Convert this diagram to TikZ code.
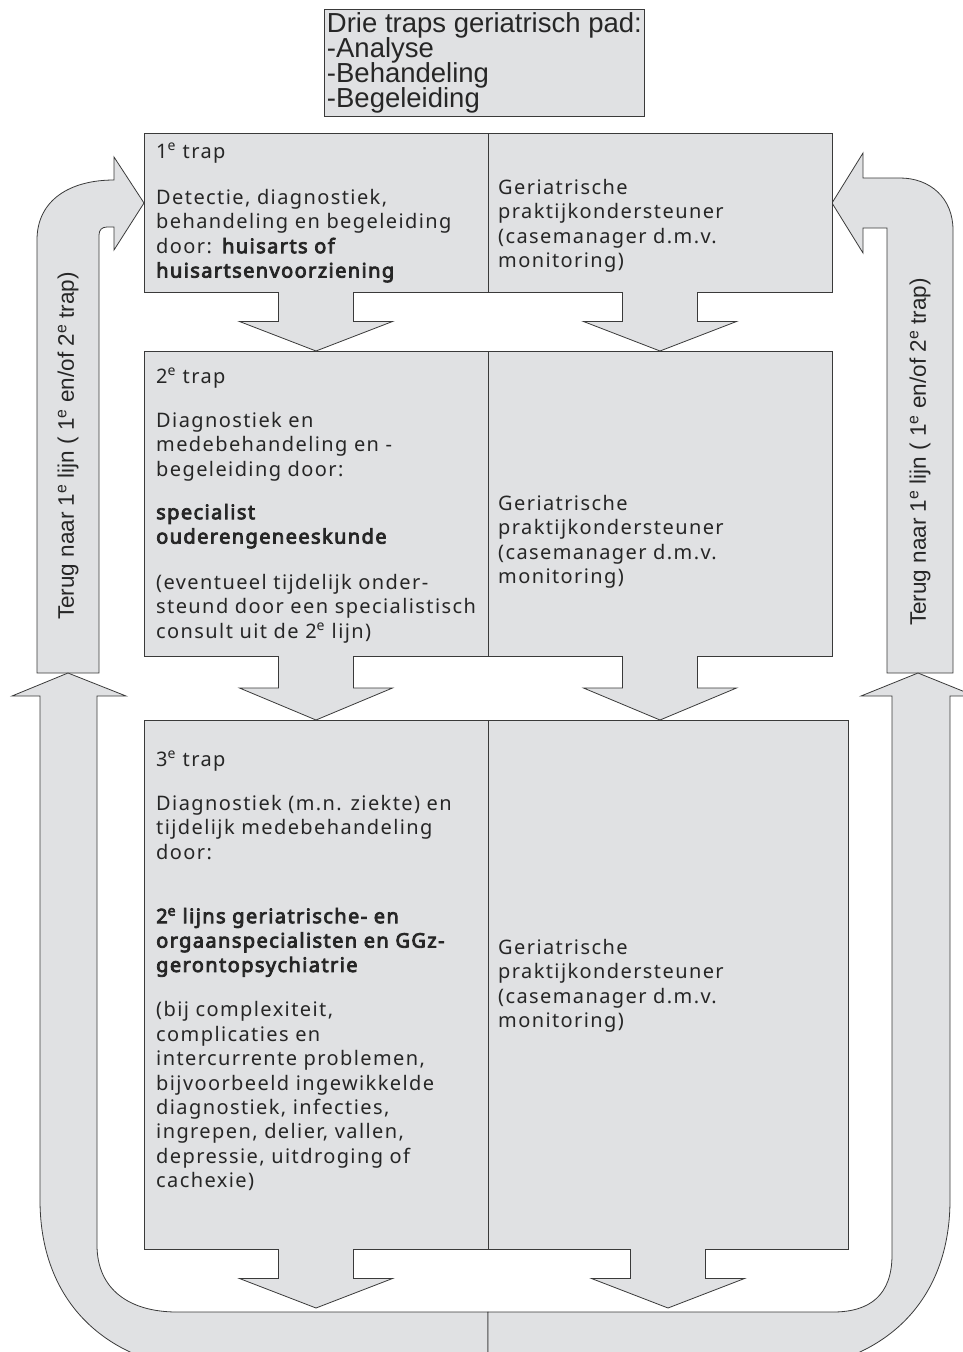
\documentclass[tikz,border=0pt]{standalone}
\usepackage{fontspec}
\setmainfont{Noto Sans}[LetterSpace=7, BoldFont={Noto Sans}, BoldFeatures={FakeBold=4}]
\newfontfamily\arialfont{Liberation Sans}
\newcommand{\padfont}{\arialfont\fontsize{27.5}{25}\selectfont\lineskiplimit=-20pt\relax}
\definecolor{panel}{HTML}{E0E1E3}
\definecolor{rim}{HTML}{3A3A3A}

% block arrow pointing down: centre x, top y, tip y
\newcommand{\dropdown}[3]{%
  \fill[panel] (#1-37.5,#2-1.5) -- (#1-37.5,{(#2+#3)/2}) -- (#1-76.5,{(#2+#3)/2}) -- (#1,#3)
    -- (#1+76.5,{(#2+#3)/2}) -- (#1+37.5,{(#2+#3)/2}) -- (#1+37.5,#2-1.5) -- cycle;
  \draw[rim line] (#1-37.5,#2) -- (#1-37.5,{(#2+#3)/2}) -- (#1-76.5,{(#2+#3)/2}) -- (#1,#3)
    -- (#1+76.5,{(#2+#3)/2}) -- (#1+37.5,{(#2+#3)/2}) -- (#1+37.5,#2);
}

\begin{document}
\begin{tikzpicture}[
  x=1pt, y=-1pt,
  rim line/.style={draw=rim, line width=0.8pt, line join=miter},
  blockarrow/.style={rim line, fill=panel},
  panelbox/.style={rim line, fill=panel, inner sep=0, anchor=north west},
  body/.style={font=\fontsize{20}{24.4}\selectfont, text=black!85, align=left, anchor=north west, inner sep=0},
  sidelabel/.style={font=\arialfont\fontsize{22.5}{22.5}\selectfont, text=black!85, rotate=90, inner sep=0}
]
\useasboundingbox (0,0) rectangle (963,1352);

% return arrows, left and right
\path[blockarrow] (37,673) -- (37,240) .. controls (37,200) and (70,180) .. (114,180) -- (114,157)
  -- (144,203) -- (114,250) -- (114,227) -- (107,227) .. controls (102,227) and (99,230) .. (99,235)
  -- (99,673) -- cycle;
\path[blockarrow] (953,673) -- (953,230) .. controls (953,198) and (930,178) .. (900,178) -- (863,178)
  -- (863,153) -- (832,203) -- (863,253) -- (863,228) -- (887,228) -- (887,673) -- cycle;

% loop at the bottom
\path[blockarrow] (488,1312) -- (177,1312) .. controls (130,1312) and (97,1290) .. (97,1245)
  -- (97,696) -- (126,696) -- (68,673) -- (12,696) -- (40,696) -- (40,1200)
  .. controls (40,1305) and (110,1372) .. (230,1372) -- (488,1372) -- cycle;
\path[blockarrow] (488,1312) -- (833,1312) .. controls (870,1312) and (892,1295) .. (892,1255)
  -- (892,696) -- (861,696) -- (918,673) -- (975,696) -- (950,696) -- (950,1200)
  .. controls (950,1305) and (880,1372) .. (760,1372) -- (488,1372) -- cycle;

\node[panelbox, minimum width=320, minimum height=107, align=left, font=\padfont, text=black!85] (pad) at (324,9)
  {Drie traps geriatrisch pad:\\-Analyse\\-Behandeling\\-Begeleiding};

\node[panelbox, minimum width=688, minimum height=159] (trap1) at (144,133) {};
\node[panelbox, minimum width=688, minimum height=305] (trap2) at (144,351) {};
\node[panelbox, minimum width=704, minimum height=529] (trap3) at (144,720) {};

\foreach \ya/\yb in {133/292, 351/656, 720/1249}
  \draw[rim line] (488,\ya) -- (488,\yb);

\foreach \cx/\ya/\yb in {316/292/351, 660/292/351, 316/656/720, 660/656/720, 316/1249/1308, 668/1249/1308}
  \dropdown{\cx}{\ya}{\yb};

% texts
\node[body] (huisarts) at (156,143) {1\textsuperscript{e} trap\\[21.6pt]
  Detectie, diagnostiek,\\
  behandeling en begeleiding\\
  door: \textbf{huisarts of}\\
  \textbf{huisartsenvoorziening}};
\node[body] (poh1) at (498,179) {Geriatrische\\praktijkondersteuner\\(casemanager d.m.v.\\monitoring)};

\node[body] (specialist) at (156,368) {2\textsuperscript{e} trap\\[19.6pt]
  Diagnostiek en\\
  medebehandeling en -\\
  begeleiding door:\\[18.6pt]
  \textbf{specialist}\\
  \textbf{ouderengeneeskunde}\\[21.6pt]
  (eventueel tijdelijk onder-\\
  steund door een specialistisch\\
  consult uit de 2\textsuperscript{e} lijn)};
\node[body] (poh2) at (498,495) {Geriatrische\\praktijkondersteuner\\(casemanager d.m.v.\\monitoring)};

\node[body] (tweedelijn) at (156,751) {3\textsuperscript{e} trap\\[19.6pt]
  Diagnostiek (m.n. ziekte) en\\
  tijdelijk medebehandeling\\
  door:\\[39.6pt]
  \textbf{2\textsuperscript{e} lijns geriatrische- en}\\
  \textbf{orgaanspecialisten en GGz-}\\
  \textbf{gerontopsychiatrie}\\[20.6pt]
  (bij complexiteit,\\
  complicaties en\\
  intercurrente problemen,\\
  bijvoorbeeld ingewikkelde\\
  diagnostiek, infecties,\\
  ingrepen, delier, vallen,\\
  depressie, uitdroging of\\
  cachexie)};
\node[body] (poh3) at (498,939) {Geriatrische\\praktijkondersteuner\\(casemanager d.m.v.\\monitoring)};

\node[sidelabel] (terugL) at (68,446) {Terug naar 1\textsuperscript{e} lijn ( 1\textsuperscript{e} en/of 2\textsuperscript{e} trap)};
\node[sidelabel] (terugR) at (920,452) {Terug naar 1\textsuperscript{e} lijn ( 1\textsuperscript{e} en/of 2\textsuperscript{e} trap)};
\end{tikzpicture}
\end{document}
